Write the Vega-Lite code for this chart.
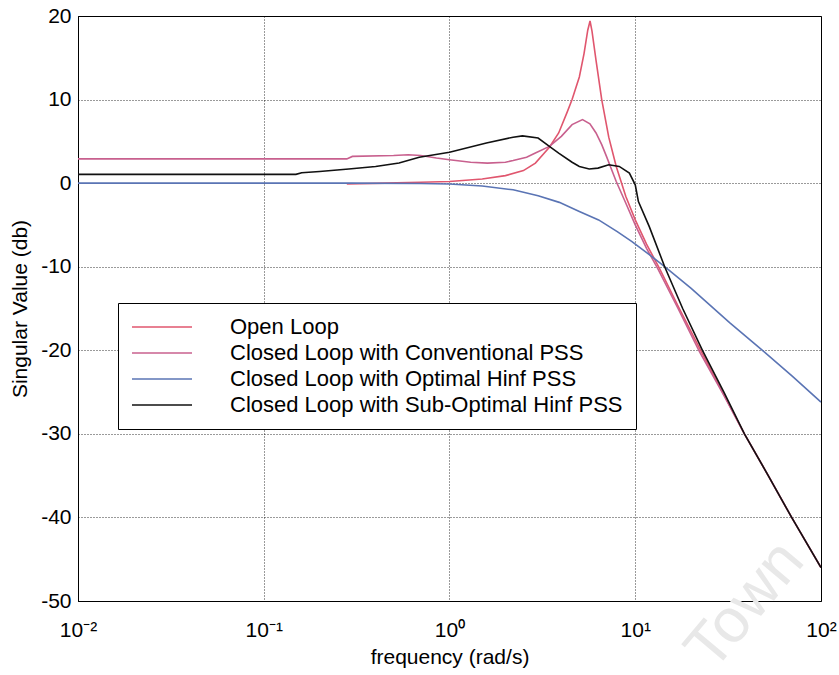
{
  "$schema": "https://vega.github.io/schema/vega-lite/v6.json",
  "autosize": "none",
  "width": 743,
  "height": 585,
  "padding": {"left": 78, "top": 16, "right": 18, "bottom": 74},
  "background": "white",
  "config": {
    "font": "Liberation Sans",
    "view": {"stroke": "#000", "strokeWidth": 1},
    "axis": {
      "domainColor": "#000",
      "labelColor": "#000",
      "titleColor": "#000",
      "labelFont": "Liberation Sans",
      "titleFont": "Liberation Sans",
      "labelFontSize": 21,
      "titleFontSize": 21,
      "titleFontWeight": "normal",
      "grid": true,
      "gridColor": "#000",
      "gridDash": [1, 2],
      "gridOpacity": 1,
      "gridWidth": 0.8,
      "tickColor": "#000",
      "tickSize": 0
    }
  },
  "datasets": {
    "curves": [
      {"series": "Open Loop", "f": 0.28, "db": -0.1},
      {"series": "Open Loop", "f": 0.45, "db": 0.0},
      {"series": "Open Loop", "f": 0.7, "db": 0.1},
      {"series": "Open Loop", "f": 1.0, "db": 0.2},
      {"series": "Open Loop", "f": 1.5, "db": 0.5},
      {"series": "Open Loop", "f": 2.0, "db": 0.9},
      {"series": "Open Loop", "f": 2.5, "db": 1.5},
      {"series": "Open Loop", "f": 2.9, "db": 2.4},
      {"series": "Open Loop", "f": 3.45, "db": 4.3},
      {"series": "Open Loop", "f": 3.87, "db": 6.0},
      {"series": "Open Loop", "f": 4.3, "db": 8.5},
      {"series": "Open Loop", "f": 4.57, "db": 10.0},
      {"series": "Open Loop", "f": 5.0, "db": 12.7},
      {"series": "Open Loop", "f": 5.3, "db": 15.5},
      {"series": "Open Loop", "f": 5.55, "db": 18.3},
      {"series": "Open Loop", "f": 5.71, "db": 19.4},
      {"series": "Open Loop", "f": 5.85, "db": 18.2},
      {"series": "Open Loop", "f": 6.15, "db": 14.7},
      {"series": "Open Loop", "f": 6.6, "db": 10.0},
      {"series": "Open Loop", "f": 7.2, "db": 5.5},
      {"series": "Open Loop", "f": 7.9, "db": 2.0},
      {"series": "Open Loop", "f": 8.9, "db": -1.6},
      {"series": "Open Loop", "f": 10.0, "db": -4.4},
      {"series": "Open Loop", "f": 11.5, "db": -7.3},
      {"series": "Open Loop", "f": 13.5, "db": -10.2},
      {"series": "Open Loop", "f": 17.0, "db": -14.7},
      {"series": "Open Loop", "f": 22.5, "db": -20.0},
      {"series": "Open Loop", "f": 30.0, "db": -25.3},
      {"series": "Open Loop", "f": 38.7, "db": -30.0},
      {"series": "Open Loop", "f": 52.0, "db": -35.0},
      {"series": "Open Loop", "f": 69.5, "db": -40.0},
      {"series": "Open Loop", "f": 100.0, "db": -46.0},

      {"series": "Closed Loop with Conventional PSS", "f": 0.01, "db": 2.9},
      {"series": "Closed Loop with Conventional PSS", "f": 0.28, "db": 2.9},
      {"series": "Closed Loop with Conventional PSS", "f": 0.3, "db": 3.2},
      {"series": "Closed Loop with Conventional PSS", "f": 0.5, "db": 3.3},
      {"series": "Closed Loop with Conventional PSS", "f": 0.6, "db": 3.4},
      {"series": "Closed Loop with Conventional PSS", "f": 0.7, "db": 3.3},
      {"series": "Closed Loop with Conventional PSS", "f": 0.85, "db": 3.0},
      {"series": "Closed Loop with Conventional PSS", "f": 1.0, "db": 2.8},
      {"series": "Closed Loop with Conventional PSS", "f": 1.3, "db": 2.5},
      {"series": "Closed Loop with Conventional PSS", "f": 1.6, "db": 2.4},
      {"series": "Closed Loop with Conventional PSS", "f": 2.0, "db": 2.5},
      {"series": "Closed Loop with Conventional PSS", "f": 2.2, "db": 2.7},
      {"series": "Closed Loop with Conventional PSS", "f": 2.6, "db": 3.1},
      {"series": "Closed Loop with Conventional PSS", "f": 2.9, "db": 3.6},
      {"series": "Closed Loop with Conventional PSS", "f": 3.45, "db": 4.4},
      {"series": "Closed Loop with Conventional PSS", "f": 4.0, "db": 5.6},
      {"series": "Closed Loop with Conventional PSS", "f": 4.57, "db": 7.0},
      {"series": "Closed Loop with Conventional PSS", "f": 5.2, "db": 7.6},
      {"series": "Closed Loop with Conventional PSS", "f": 5.7, "db": 7.1},
      {"series": "Closed Loop with Conventional PSS", "f": 6.15, "db": 6.0},
      {"series": "Closed Loop with Conventional PSS", "f": 6.6, "db": 4.6},
      {"series": "Closed Loop with Conventional PSS", "f": 7.0, "db": 3.2},
      {"series": "Closed Loop with Conventional PSS", "f": 7.9, "db": 0.2},
      {"series": "Closed Loop with Conventional PSS", "f": 8.9, "db": -2.4},
      {"series": "Closed Loop with Conventional PSS", "f": 10.0, "db": -5.0},
      {"series": "Closed Loop with Conventional PSS", "f": 11.5, "db": -7.8},
      {"series": "Closed Loop with Conventional PSS", "f": 13.2, "db": -10.2},
      {"series": "Closed Loop with Conventional PSS", "f": 17.0, "db": -15.0},
      {"series": "Closed Loop with Conventional PSS", "f": 22.2, "db": -20.2},
      {"series": "Closed Loop with Conventional PSS", "f": 30.0, "db": -25.4},
      {"series": "Closed Loop with Conventional PSS", "f": 38.7, "db": -30.0},
      {"series": "Closed Loop with Conventional PSS", "f": 52.0, "db": -35.0},
      {"series": "Closed Loop with Conventional PSS", "f": 69.5, "db": -40.0},
      {"series": "Closed Loop with Conventional PSS", "f": 100.0, "db": -46.0},

      {"series": "Closed Loop with Optimal Hinf PSS", "f": 0.01, "db": 0.0},
      {"series": "Closed Loop with Optimal Hinf PSS", "f": 0.3, "db": 0.0},
      {"series": "Closed Loop with Optimal Hinf PSS", "f": 0.7, "db": -0.05},
      {"series": "Closed Loop with Optimal Hinf PSS", "f": 1.0, "db": -0.1},
      {"series": "Closed Loop with Optimal Hinf PSS", "f": 1.5, "db": -0.35},
      {"series": "Closed Loop with Optimal Hinf PSS", "f": 2.2, "db": -0.8},
      {"series": "Closed Loop with Optimal Hinf PSS", "f": 3.0, "db": -1.5},
      {"series": "Closed Loop with Optimal Hinf PSS", "f": 3.9, "db": -2.3},
      {"series": "Closed Loop with Optimal Hinf PSS", "f": 5.0, "db": -3.4},
      {"series": "Closed Loop with Optimal Hinf PSS", "f": 6.35, "db": -4.4},
      {"series": "Closed Loop with Optimal Hinf PSS", "f": 8.0, "db": -5.8},
      {"series": "Closed Loop with Optimal Hinf PSS", "f": 9.6, "db": -7.0},
      {"series": "Closed Loop with Optimal Hinf PSS", "f": 12.0, "db": -8.6},
      {"series": "Closed Loop with Optimal Hinf PSS", "f": 14.4, "db": -10.0},
      {"series": "Closed Loop with Optimal Hinf PSS", "f": 20.0, "db": -12.6},
      {"series": "Closed Loop with Optimal Hinf PSS", "f": 32.2, "db": -16.7},
      {"series": "Closed Loop with Optimal Hinf PSS", "f": 48.4, "db": -20.0},
      {"series": "Closed Loop with Optimal Hinf PSS", "f": 70.0, "db": -23.1},
      {"series": "Closed Loop with Optimal Hinf PSS", "f": 100.0, "db": -26.2},

      {"series": "Closed Loop with Sub-Optimal Hinf PSS", "f": 0.01, "db": 1.05},
      {"series": "Closed Loop with Sub-Optimal Hinf PSS", "f": 0.149, "db": 1.05},
      {"series": "Closed Loop with Sub-Optimal Hinf PSS", "f": 0.16, "db": 1.25},
      {"series": "Closed Loop with Sub-Optimal Hinf PSS", "f": 0.2, "db": 1.4},
      {"series": "Closed Loop with Sub-Optimal Hinf PSS", "f": 0.287, "db": 1.7},
      {"series": "Closed Loop with Sub-Optimal Hinf PSS", "f": 0.4, "db": 2.0},
      {"series": "Closed Loop with Sub-Optimal Hinf PSS", "f": 0.535, "db": 2.4},
      {"series": "Closed Loop with Sub-Optimal Hinf PSS", "f": 0.687, "db": 3.1},
      {"series": "Closed Loop with Sub-Optimal Hinf PSS", "f": 1.0, "db": 3.7},
      {"series": "Closed Loop with Sub-Optimal Hinf PSS", "f": 1.58, "db": 4.8},
      {"series": "Closed Loop with Sub-Optimal Hinf PSS", "f": 2.2, "db": 5.5},
      {"series": "Closed Loop with Sub-Optimal Hinf PSS", "f": 2.47, "db": 5.65},
      {"series": "Closed Loop with Sub-Optimal Hinf PSS", "f": 3.0, "db": 5.4},
      {"series": "Closed Loop with Sub-Optimal Hinf PSS", "f": 3.45, "db": 4.4},
      {"series": "Closed Loop with Sub-Optimal Hinf PSS", "f": 3.87, "db": 3.6},
      {"series": "Closed Loop with Sub-Optimal Hinf PSS", "f": 4.57, "db": 2.5},
      {"series": "Closed Loop with Sub-Optimal Hinf PSS", "f": 5.0, "db": 2.0},
      {"series": "Closed Loop with Sub-Optimal Hinf PSS", "f": 5.65, "db": 1.7},
      {"series": "Closed Loop with Sub-Optimal Hinf PSS", "f": 6.3, "db": 1.8},
      {"series": "Closed Loop with Sub-Optimal Hinf PSS", "f": 7.2, "db": 2.2},
      {"series": "Closed Loop with Sub-Optimal Hinf PSS", "f": 8.2, "db": 2.0},
      {"series": "Closed Loop with Sub-Optimal Hinf PSS", "f": 9.3, "db": 1.2},
      {"series": "Closed Loop with Sub-Optimal Hinf PSS", "f": 10.0, "db": -0.2},
      {"series": "Closed Loop with Sub-Optimal Hinf PSS", "f": 10.4, "db": -2.2},
      {"series": "Closed Loop with Sub-Optimal Hinf PSS", "f": 11.9, "db": -5.2},
      {"series": "Closed Loop with Sub-Optimal Hinf PSS", "f": 14.4, "db": -10.0},
      {"series": "Closed Loop with Sub-Optimal Hinf PSS", "f": 18.0, "db": -15.0},
      {"series": "Closed Loop with Sub-Optimal Hinf PSS", "f": 23.0, "db": -20.0},
      {"series": "Closed Loop with Sub-Optimal Hinf PSS", "f": 30.0, "db": -25.0},
      {"series": "Closed Loop with Sub-Optimal Hinf PSS", "f": 38.7, "db": -30.0},
      {"series": "Closed Loop with Sub-Optimal Hinf PSS", "f": 52.0, "db": -35.0},
      {"series": "Closed Loop with Sub-Optimal Hinf PSS", "f": 69.5, "db": -40.0},
      {"series": "Closed Loop with Sub-Optimal Hinf PSS", "f": 100.0, "db": -46.0}
    ],
    "mark": [
      {"label": "Town", "f": 39, "db": -50.5}
    ]
  },
  "layer": [
    {
      "data": {"name": "mark"},
      "mark": {"type": "text", "fontSize": 62, "color": "#e8e8e8", "angle": 310, "baseline": "middle", "align": "center", "font": "Liberation Sans", "clip": false},
      "encoding": {
        "x": {"field": "f", "type": "quantitative", "scale": {"type": "log", "domain": [0.01, 100]}},
        "y": {"field": "db", "type": "quantitative", "scale": {"domain": [-50, 20]}},
        "text": {"field": "label"}
      }
    },
    {
      "data": {"name": "curves"},
      "mark": {"type": "line", "strokeWidth": 1.6, "clip": true},
      "encoding": {
        "x": {
          "field": "f", "type": "quantitative",
          "scale": {"type": "log", "domain": [0.01, 100], "nice": false},
          "axis": {
            "title": "frequency (rad/s)",
            "values": [0.01, 0.1, 1, 10, 100],
            "labelExpr": "datum.value == 0.01 ? '10⁻²' : datum.value == 0.1 ? '10⁻¹' : datum.value == 1 ? '10⁰' : datum.value == 10 ? '10¹' : '10²'",
            "labelPadding": 18,
            "titlePadding": 6,
            "labelFlush": false
          }
        },
        "y": {
          "field": "db", "type": "quantitative",
          "scale": {"domain": [-50, 20], "nice": false},
          "axis": {
            "title": "Singular Value (db)",
            "values": [-50, -40, -30, -20, -10, 0, 10, 20],
            "labelExpr": "'' + datum.value",
            "labelPadding": 7,
            "titlePadding": 10
          }
        },
        "color": {
          "field": "series", "type": "nominal",
          "scale": {
            "domain": ["Open Loop", "Closed Loop with Conventional PSS", "Closed Loop with Optimal Hinf PSS", "Closed Loop with Sub-Optimal Hinf PSS"],
            "range": ["#e0566e", "#c8608e", "#5a74b4", "#111111"]
          },
          "legend": {
            "title": null,
            "orient": "none",
            "legendX": 40,
            "legendY": 287,
            "symbolType": "M-1,0H5",
            "symbolSize": 400,
            "symbolStrokeWidth": 1.6,
            "labelFontSize": 22,
            "labelFont": "Liberation Sans",
            "labelColor": "#000",
            "labelOffset": 77,
            "labelLimit": 600,
            "rowPadding": 4,
            "padding": 13,
            "strokeColor": "#000",
            "fillColor": "#fff"
          }
        }
      }
    }
  ]
}
